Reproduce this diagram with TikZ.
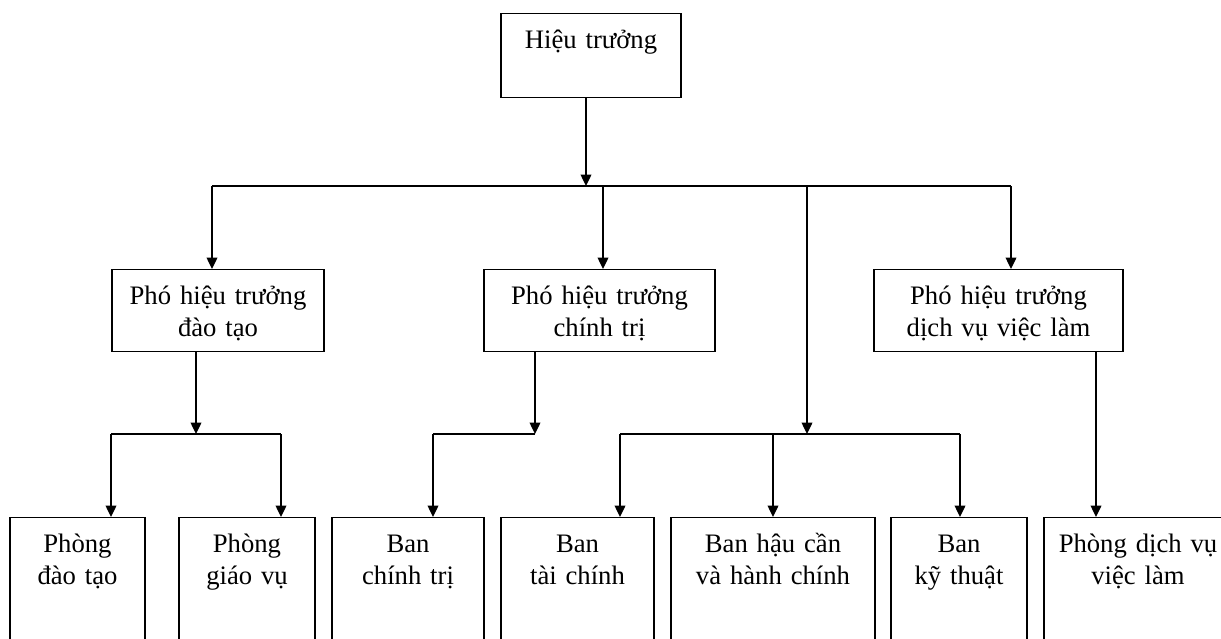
\documentclass[tikz,border=0pt]{standalone}
\usepackage{fontspec}
\setmainfont{Liberation Serif}
\usetikzlibrary{arrows.meta}

\tikzset{
  box/.style 2 args={draw, align=center, anchor=north, inner sep=0pt,
    text width=#1, text height=26pt, text depth=#2,
    font=\fontsize{20pt}{24pt}\selectfont},
  arr/.style={-{Triangle[length=8.5pt,width=8pt]}},
}

\begin{document}
\begin{tikzpicture}[x=0.75pt,y=-0.75pt,line width=1pt]
   \useasboundingbox (0,0) rectangle (1221,639);
   \clip (0,0) rectangle (1221,639);

   \node[box={135pt}{37pt}] (ht) at (591,13) {Hiệu trưởng};

   \node[box={159pt}{35.5pt}] (pdt) at (218,269) {Phó hiệu trưởng\\đào tạo};
   \node[box={173.25pt}{35.5pt}] (pct) at (599.5,269) {Phó hiệu trưởng\\chính trị};
   \node[box={186.75pt}{35.5pt}] (pdv) at (998.5,269) {Phó hiệu trưởng\\dịch vụ việc làm};

   \node[box={101.25pt}{100pt}] (pdaotao) at (77.5,517) {Phòng\\đào tạo};
   \node[box={102pt}{100pt}] (pgiaovu) at (247,517) {Phòng\\giáo vụ};
   \node[box={114pt}{100pt}] (bchinhtri) at (408,517) {Ban\\chính trị};
   \node[box={114.75pt}{100pt}] (btaichinh) at (577.5,517) {Ban\\tài chính};
   \node[box={153pt}{100pt}] (bhaucan) at (773,517) {Ban hậu cần\\và hành chính};
   \node[box={102pt}{100pt}] (bkythuat) at (959,517) {Ban\\kỹ thuật};
   \node[box={141pt}{100pt}] (pdichvu) at (1138,517) {Phòng dịch vụ\\việc làm};

   \coordinate (t0) at (586,186);
   \coordinate (tl) at (212,186);
   \coordinate (tm) at (603,186);
   \coordinate (tk) at (807,186);
   \coordinate (tr) at (1011,186);
   \draw[arr] (ht.south -| t0) -- (t0);
   \draw (tl) -- (tr);
   \draw[arr] (tl) -- (tl |- pdt.north);
   \draw[arr] (tm) -- (tm |- pct.north);
   \draw[arr] (tr) -- (tr |- pdv.north);

   \coordinate (a0) at (196,434);
   \coordinate (al) at (111,434);
   \coordinate (ar) at (281,434);
   \draw[arr] (pdt.south -| a0) -- (a0);
   \draw (al) -- (ar);
   \draw[arr] (al) -- (al |- pdaotao.north);
   \draw[arr] (ar) -- (ar |- pgiaovu.north);

   \coordinate (b0) at (535,434);
   \coordinate (bl) at (433,434);
   \draw[arr] (pct.south -| b0) -- (b0);
   \draw (b0) -- (bl);
   \draw[arr] (bl) -- (bl |- bchinhtri.north);

   \coordinate (c0) at (807,434);
   \coordinate (cl) at (620,434);
   \coordinate (cr) at (960,434);
   \draw[arr] (tk) -- (c0);
   \draw (cl) -- (cr);
   \draw[arr] (cl) -- (cl |- btaichinh.north);
   \draw[arr] (bhaucan.north |- cl) -- (bhaucan.north);
   \draw[arr] (cr) -- (cr |- bkythuat.north);

   \coordinate (d0) at (1096,0);
   \draw[arr] (pdv.south -| d0) -- (pdichvu.north -| d0);
\end{tikzpicture}
\end{document}
